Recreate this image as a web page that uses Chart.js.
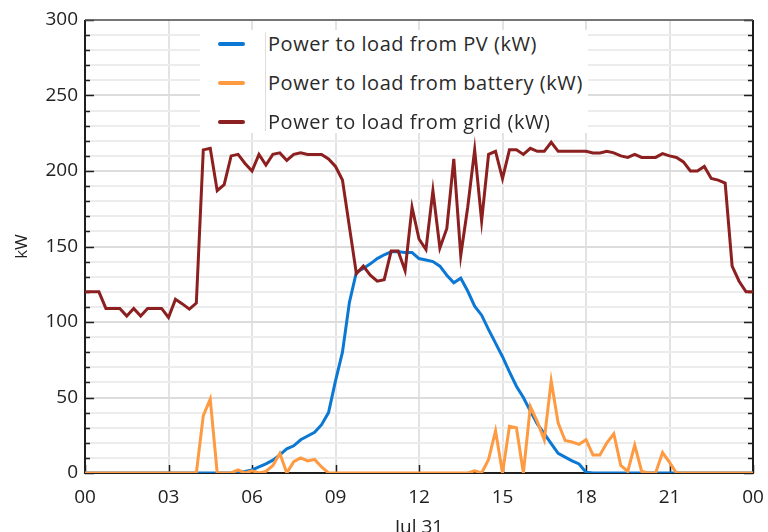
<!DOCTYPE html>
<html>
<head>
<meta charset="utf-8">
<script src="https://cdn.jsdelivr.net/npm/chart.js@4.4.1/dist/chart.umd.min.js"></script>
<style>
  html, body { margin: 0; padding: 0; background: #fff; }
  #wrap { position: relative; width: 768px; height: 532px; overflow: hidden; }
  #legend {
    position: absolute; left: 200px; top: 30px; width: 388px; height: 103px;
    background: #fff; font-family: 'Open Sans', sans-serif; font-size: 20px; color: #2a2a2a;
  }
  #legend .sep { position: absolute; left: 65px; top: 2px; width: 1px; height: 99px; background: #dedede; }
  #legend .row { position: absolute; left: 0; height: 26px; width: 388px; }
  #legend .swatch { position: absolute; left: 18px; top: 11px; width: 27px; height: 4px; border-radius: 2px; }
  #legend .text { position: absolute; left: 68px; top: 0; line-height: 26px; white-space: nowrap; letter-spacing: 0.55px; }
</style>
</head>
<body>
<div id="wrap">
  <canvas id="chart" width="768" height="532"></canvas>
  <div id="legend"><div class="sep"></div></div>
</div>
<script>
// time of day in hours, one sample every 15 min (00:00 -> 24:00)
const timeSteps = Array.from({ length: 97 }, (_, i) => i * 0.25);
const xTickLabels = ['00', '03', '06', '09', '12', '15', '18', '21', '00'];
const dateLabel = 'Jul 31';

const seriesNames = [
  'Power to load from PV (kW)',
  'Power to load from battery (kW)',
  'Power to load from grid (kW)'
];
const seriesColors = ['#0b78d3', '#fe9a41', '#8c1f1f'];

// values (kW)
const pvToLoad = [
  0, 0, 0, 0, 0, 0, 0, 0, 0, 0, 0, 0,
  0, 0, 0, 0, 0, 0, 0, 0, 0, 0, 0.5, 1,
  2, 4, 6, 8.5, 12, 16, 18, 22, 24.5, 27, 32, 40,
  61, 80, 113, 133, 135.5, 138.5, 142, 144.5, 146.5, 146.5, 146, 146,
  142, 141, 140, 137, 131, 126, 129, 120.5, 110.5, 104.5, 95, 86,
  77, 67, 57.5, 50, 41, 32.5, 26, 19.5, 13, 10.5, 8, 6,
  0.5, 0, 0, 0, 0, 0, 0, 0, 0, 0, 0, 0,
  0, 0, 0, 0, 0, 0, 0, 0, 0, 0, 0, 0,
  0
];

const batteryToLoad = [
  0, 0, 0, 0, 0, 0, 0, 0, 0, 0, 0, 0,
  0, 0, 0, 0, 0, 38, 49, 0, 0, 0, 2, 0,
  1.5, 0, 1, 5, 13, 0, 7.5, 10, 8, 9, 4, 0,
  0, 0, 0, 0, 0, 0, 0, 0, 0, 0, 0, 0,
  0, 0, 0, 0, 0, 0, 0, 0, 1.5, 0, 9, 28,
  0, 31, 30, 0, 44, 34, 22, 61, 33, 21.5, 20.5, 19,
  22, 12, 12, 20, 26, 5, 1, 18.5, 1, 0, 0, 13.5,
  7, 0, 0, 0, 0, 0, 0, 0, 0, 0, 0, 0,
  0
];

const gridToLoad = [
  120, 120, 120, 109, 109, 109, 104, 109, 104, 109, 109, 109,
  103, 115, 112, 108.5, 112.5, 214, 215, 187, 191, 210, 211, 205,
  200, 211, 204, 211, 212, 207, 211, 212, 211, 211, 211, 208,
  203, 194, 163, 132, 137, 131, 127, 128, 147, 147, 134, 176,
  155, 148, 187, 149, 162, 208, 144, 176, 214, 167, 211, 213,
  195, 214, 214, 211, 215, 213, 213, 219, 213, 213, 213, 213,
  213, 212, 212, 213, 212, 210, 209, 211, 209, 209, 209, 211.5,
  210, 209, 206, 200, 200, 203, 195, 194, 192, 137, 127, 120,
  120
];

const yMin = 0, yMax = 300, yMinorStep = 10, yMajorStep = 50;

const FONT = "'Open Sans', sans-serif";

// inward tick marks and dark frame round the plot, like the original
const frameTicks = {
  id: 'frameTicks',
  beforeDatasetsDraw(chart) {
    const { ctx, chartArea: a, scales: { x, y } } = chart;
    ctx.save();
    ctx.strokeStyle = '#1e1e1e';
    ctx.lineWidth = 1.5;
    y.ticks.forEach(t => {
      const py = Math.round(y.getPixelForValue(t.value)) + 0.5;
      const len = t.value % yMajorStep === 0 ? 9 : 5;
      ctx.beginPath();
      ctx.moveTo(a.left, py); ctx.lineTo(a.left + len, py);
      ctx.moveTo(a.right, py); ctx.lineTo(a.right - len, py);
      ctx.stroke();
    });
    x.ticks.forEach(t => {
      const px = Math.round(x.getPixelForValue(t.value)) + 0.5;
      ctx.beginPath();
      ctx.moveTo(px, a.bottom); ctx.lineTo(px, a.bottom - 8);
      ctx.stroke();
    });
    ctx.lineWidth = 2;
    ctx.beginPath();
    ctx.moveTo(a.left, a.top); ctx.lineTo(a.left, a.bottom);
    ctx.lineTo(a.right, a.bottom); ctx.lineTo(a.right, a.top);
    ctx.stroke();
    ctx.strokeStyle = '#555';
    ctx.lineWidth = 1.5;
    ctx.beginPath();
    ctx.moveTo(a.left, a.top); ctx.lineTo(a.right, a.top);
    ctx.stroke();
    ctx.restore();
  }
};

const seriesValues = [pvToLoad, batteryToLoad, gridToLoad];
const drawOrder = [2, 1, 0]; // grid on top, then battery, then PV

const chart = new Chart(document.getElementById('chart'), {
  type: 'line',
  data: {
    labels: timeSteps,
    datasets: seriesValues.map((vals, i) => ({
      label: seriesNames[i],
      data: vals,
      borderColor: seriesColors[i],
      backgroundColor: seriesColors[i],
      borderWidth: 3,
      pointRadius: 0,
      tension: 0,
      fill: false,
      order: drawOrder[i]
    }))
  },
  options: {
    responsive: false,
    animation: false,
    devicePixelRatio: 1,
    layout: { autoPadding: false, padding: { left: 0, top: 20, right: 15, bottom: 0 } },
    plugins: {
      legend: { display: false },
      tooltip: { enabled: false }
    },
    scales: {
      x: {
        type: 'linear',
        min: 0,
        max: 24,
        // fixed height, and no extra side padding for the end labels
        afterFit: s => { s.height = 59; s.paddingLeft = 0; s.paddingRight = 0; },
        border: { display: false },
        grid: { color: '#e3e3e3', lineWidth: 2, drawTicks: false },
        ticks: {
          stepSize: 3,
          autoSkip: false,
          maxRotation: 0,
          padding: 13,
          color: '#222',
          font: { family: FONT, size: 19 },
          callback: v => xTickLabels[Math.round(v / 3)]
        },
        title: {
          display: true,
          text: dateLabel,
          color: '#222',
          font: { family: FONT, size: 19 },
          padding: { top: 0, bottom: -7 }
        }
      },
      y: {
        min: yMin,
        max: yMax,
        afterFit: s => { s.width = 85; },
        border: { display: false },
        grid: {
          color: c => c.tick.value % yMajorStep === 0 ? '#dcdcdc' : '#ececec',
          lineWidth: 2,
          drawTicks: false
        },
        ticks: {
          stepSize: yMinorStep,
          autoSkip: false,
          padding: 7,
          color: '#222',
          font: { family: FONT, size: 19 },
          callback: v => v % yMajorStep === 0 ? String(v) : ''
        },
        title: {
          display: true,
          text: 'kW',
          color: '#222',
          font: { family: FONT, size: 17 },
          padding: { top: 12, bottom: 0 }
        }
      }
    }
  },
  plugins: [frameTicks]
});

// legend box drawn over the plot, built from the datasets
const legendEl = document.getElementById('legend');
const rowCenters = [14, 53, 92];
chart.data.datasets.forEach((ds, i) => {
  const row = document.createElement('div');
  row.className = 'row';
  row.style.top = (rowCenters[i] - 13) + 'px';
  row.innerHTML = `<span class="swatch" style="background:${ds.borderColor}"></span><span class="text">${ds.label}</span>`;
  legendEl.appendChild(row);
});
</script>
</body>
</html>
